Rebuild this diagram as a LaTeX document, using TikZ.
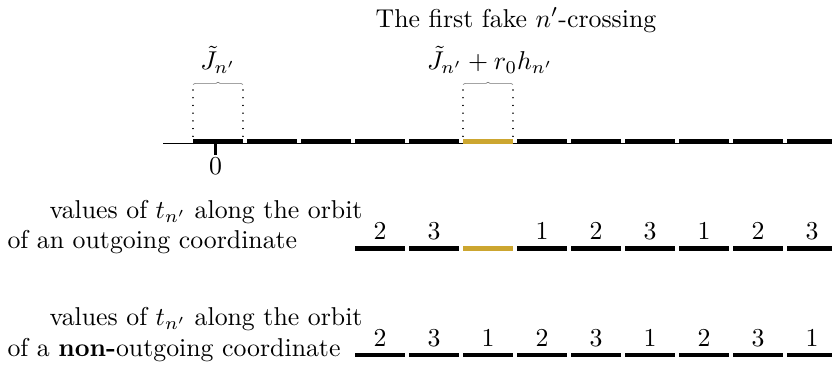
\documentclass[tikz,border=0pt]{standalone}
\usetikzlibrary{decorations.pathreplacing}
\definecolor{gold}{RGB}{204,166,48}
\begin{document}
\begin{tikzpicture}[x=0.5pt,y=-0.5pt,
  bar/.style={line width=2.3pt},
  goldbar/.style={line width=2.3pt,draw=gold},
  axis/.style={line width=0.6pt},
  tick0/.style={line width=1.4pt},
  brc/.style={decorate,decoration={brace,amplitude=1.1pt},draw=black!55,line width=0.3pt},
  dots/.style={line width=0.75pt,line cap=round,dash pattern=on 0.01pt off 3.85pt},
  lbl/.style={inner sep=0pt,scale=1.29,transform shape}]
\useasboundingbox (0,0) rectangle (832,367);
% top axis
\coordinate (axL) at (163,143.5);
\coordinate (axR) at (840,143.5);
\draw[axis] (axL) -- (axR);
\foreach \k in {0,...,11}{
  \pgfmathsetmacro{\xa}{193+54*\k}
  \pgfmathsetmacro{\xb}{243+54*\k}
  \ifnum\k=5
    \draw[goldbar] (\xa,141.6) -- (\xb,141.6);
  \else
    \draw[bar] (\xa,141.6) -- (\xb,141.6);
  \fi
}
\coordinate (t0a) at (215.5,144);
\coordinate (t0b) at (215.5,155);
\draw[tick0] (t0a) -- (t0b);
\node[lbl] (zero) at (215.5,166) {$0$};
% braces and dotted lines
\foreach \xa/\xb in {193/243,463/513}{
  \draw[brc] (\xa,84.5) -- (\xb,84.5);
  \draw[dots] (\xa,90) -- (\xa,139);
  \draw[dots] (\xb,90) -- (\xb,139);
}
\node[lbl] (J) at (218,60) {$\tilde J_{n'}$};
\node[lbl] (Jr) at (490,60) {$\tilde J_{n'}+r_0h_{n'}$};
\node[lbl] (fake) at (516,20) {The first fake $n'$-crossing};
% row 2
\node[lbl,anchor=east] (r2a) at (363,212) {values of $t_{n'}$ along the orbit};
\node[lbl,anchor=west] (r2b) at (7,242) {of an outgoing coordinate};
\foreach \k/\v in {0/2,1/3,2/,3/1,4/2,5/3,6/1,7/2,8/3}{
  \pgfmathsetmacro{\xa}{355+54*\k}
  \pgfmathsetmacro{\xb}{405+54*\k}
  \pgfmathsetmacro{\xc}{380+54*\k}
  \ifnum\k=2
    \draw[goldbar] (\xa,248.5) -- (\xb,248.5);
  \else
    \draw[bar] (\xa,248.5) -- (\xb,248.5);
  \fi
  \node[lbl] at (\xc,231) {$\v$};
}
% row 3
\node[lbl,anchor=east] (r3a) at (363,319) {values of $t_{n'}$ along the orbit};
\node[lbl,anchor=west] (r3b) at (7,350) {of a \textbf{non-}outgoing coordinate};
\foreach \k/\v in {0/2,1/3,2/1,3/2,4/3,5/1,6/2,7/3,8/1}{
  \pgfmathsetmacro{\xa}{355+54*\k}
  \pgfmathsetmacro{\xb}{405+54*\k}
  \pgfmathsetmacro{\xc}{380+54*\k}
  \draw[bar] (\xa,355) -- (\xb,355);
  \node[lbl] at (\xc,338) {$\v$};
}
\end{tikzpicture}
\end{document}
